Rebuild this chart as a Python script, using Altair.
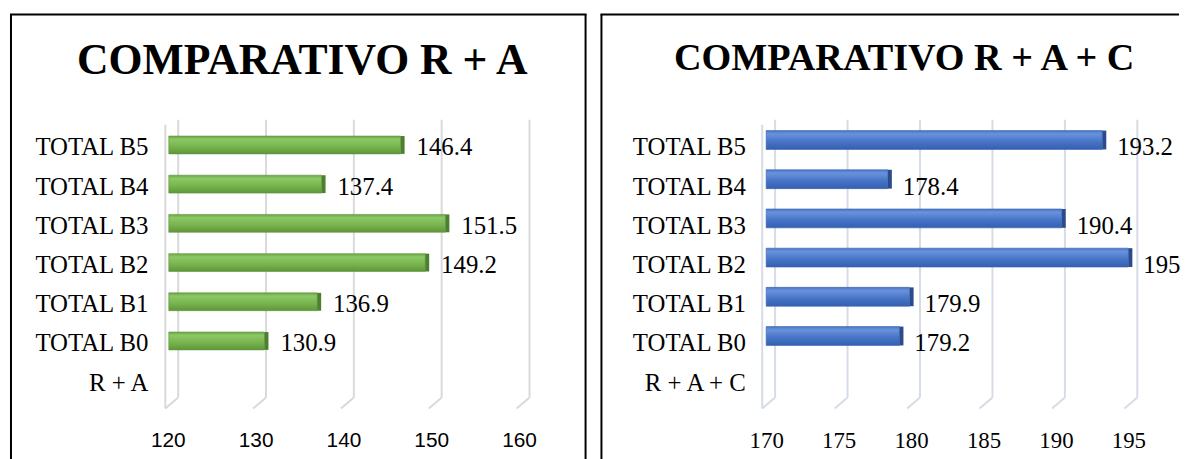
import altair as alt
import pandas as pd

# ---- data ----
categories_ra = ["TOTAL B5", "TOTAL B4", "TOTAL B3", "TOTAL B2", "TOTAL B1", "TOTAL B0", "R + A"]
values_ra = [146.4, 137.4, 151.5, 149.2, 136.9, 130.9, None]
ticks_ra = [120, 130, 140, 150, 160]
title_ra = "COMPARATIVO R + A"

categories_rac = ["TOTAL B5", "TOTAL B4", "TOTAL B3", "TOTAL B2", "TOTAL B1", "TOTAL B0", "R + A + C"]
values_rac = [193.2, 178.4, 190.4, 195, 179.9, 179.2, None]
ticks_rac = [170, 175, 180, 185, 190, 195]
title_rac = "COMPARATIVO R + A + C"

SERIF = "Liberation Serif"
SANS = "Liberation Sans"


def panel(cats, vals, ticks, title, st):
    df = pd.DataFrame({"cat": cats, "value": vals})
    bars_df = df.dropna().copy()
    bars_df["label"] = [f"{v:g}" for v in bars_df["value"]]
    tick_df = pd.DataFrame({"tick": ticks})

    W = (ticks[-1] - ticks[0]) * st["ppu"]
    H = st["step"] * len(cats)

    xs = alt.Scale(domain=[ticks[0], ticks[-1]], nice=False, zero=False)
    ys = alt.Scale(domain=cats, padding=0)

    x_axis = alt.Axis(values=ticks, grid=False, domain=False, ticks=False, tickSize=0,
                      labelFont=st["tick_font"], labelFontSize=st["tick_size"],
                      labelColor="#000000", labelPadding=st["tick_pad"],
                      labelBaseline="middle", labelOffset=st["tick_off"],
                      labelFlush=False, labelOverlap=False, title=None)
    y_axis = alt.Axis(domain=False, ticks=False, tickSize=0, grid=False,
                      labelFont=SERIF, labelFontSize=25, labelColor="#000000",
                      labelPadding=st["cat_pad"], labelLimit=300, title=None)

    grid = alt.Chart(tick_df).mark_rule(color=st["grid"], strokeWidth=2,
                                        xOffset=st["back"]).encode(
        x=alt.X("tick:Q", scale=xs, axis=x_axis),
        y=alt.value(st["g_top"]), y2=alt.value(st["g_bot"]))
    floor = alt.Chart(tick_df).mark_rule(color=st["grid"], strokeWidth=2,
                                         xOffset=st["back"], x2Offset=st["front"]).encode(
        x=alt.X("tick:Q", scale=xs, axis=x_axis), x2=alt.X2("tick"),
        y=alt.value(st["g_bot"]), y2=alt.value(st["g_front"]))
    wall = alt.Chart(alt.Data(values=[{}])).mark_rule(color=st["grid"], strokeWidth=2,
                                                      xOffset=st["front"]).encode(
        x=alt.X(datum=ticks[0], scale=xs, axis=x_axis),
        y=alt.value(st["w_top"]), y2=alt.value(st["g_front"]))

    bars = alt.Chart(bars_df).mark_bar(size=st["bar_h"], yOffset=st["bar_off"],
                                       fill=st["grad"], stroke=st["edge"], strokeWidth=0.6).encode(
        x=alt.X("value:Q", scale=xs, axis=x_axis), x2=alt.datum(ticks[0]),
        y=alt.Y("cat:N", scale=ys, sort=cats, axis=y_axis))
    caps = alt.Chart(bars_df).mark_bar(size=st["bar_h"], yOffset=st["bar_off"],
                                       x2Offset=4, color=st["cap"]).encode(
        x=alt.X("value:Q", scale=xs, axis=x_axis), x2=alt.X2("value"),
        y=alt.Y("cat:N", scale=ys, sort=cats, axis=y_axis))
    labels = alt.Chart(bars_df).mark_text(align="left", baseline="middle", dx=st["dx"],
                                          font=SERIF, fontSize=25, color="#000000").encode(
        x=alt.X("value:Q", scale=xs, axis=x_axis),
        y=alt.Y("cat:N", scale=ys, sort=cats, axis=y_axis),
        text="label:N")

    one = alt.Data(values=[{}])
    ttl = alt.Chart(one).mark_text(text=title, font=SERIF, fontSize=st["t_size"],
                                   fontWeight="bold", align="center",
                                   baseline="alphabetic", color="#000000").encode(
        x=alt.value(st["t_x"]), y=alt.value(st["t_y"]))
    layers = [grid, floor, wall, bars, caps, labels, ttl]
    layers.append(alt.Chart(one).mark_rule(color="#000000", strokeWidth=2).encode(
        x=alt.value(st["f_l"]), y=alt.value(st["f_t"]), y2=alt.value(st["f_b"])))
    if st["f_r_line"]:
        layers.append(alt.Chart(one).mark_rule(color="#000000", strokeWidth=2).encode(
            x=alt.value(st["f_r"]), y=alt.value(st["f_t"]), y2=alt.value(st["f_b"])))
    layers.append(alt.Chart(one).mark_rule(color="#000000", strokeWidth=2).encode(
        x=alt.value(st["f_l"] - 1), x2=alt.value(st["f_r"] + 1), y=alt.value(st["f_t"])))

    return alt.layer(*layers).properties(width=W, height=H)


green = alt.Gradient(gradient="linear", x1=0, x2=0, y1=0, y2=1, stops=[
    alt.GradientStop(color="#6AA444", offset=0),
    alt.GradientStop(color="#8CC866", offset=0.18),
    alt.GradientStop(color="#77B44D", offset=0.6),
    alt.GradientStop(color="#5E963A", offset=1)])
blue = alt.Gradient(gradient="linear", x1=0, x2=0, y1=0, y2=1, stops=[
    alt.GradientStop(color="#4A77C8", offset=0),
    alt.GradientStop(color="#6992DC", offset=0.18),
    alt.GradientStop(color="#4573C6", offset=0.6),
    alt.GradientStop(color="#3560B0", offset=1)])

left_style = dict(ppu=8.85, step=39.5, back=9.5, front=-3.5, grid="#D9D9D9",
                  g_top=-8.25, g_bot=271.75, g_front=282.75, w_top=-3,
                  tick_font=SANS, tick_size=21, tick_pad=38.5, tick_off=-1, cat_pad=21,
                  bar_h=18, bar_off=-2.5, grad=green, edge="#5E963A", cap="#4C7F2E", dx=16,
                  t_size=44, t_x=134.5, t_y=-53.85, f_l=-159, f_r=420, f_r_line=True,
                  f_t=-114.25, f_b=340)
right_style = dict(ppu=14.6, step=39.5, back=9, front=-4, grid="#D6DCE5",
                   g_top=-8.25, g_bot=271.75, g_front=282.75, w_top=-3,
                   tick_font=SERIF, tick_size=23, tick_pad=38.5, tick_off=0, cat_pad=21,
                   bar_h=19, bar_off=-7.5, grad=blue, edge="#3560B0", cap="#2B4C8C", dx=15,
                   t_size=38.5, t_x=139, t_y=-58.25, f_l=-166, f_r=415, f_r_line=False,
                   f_t=-114.25, f_b=340)

left = panel(categories_ra, values_ra, ticks_ra, title_ra, left_style)
right = panel(categories_rac, values_rac, ticks_rac, title_rac, right_style)

chart = alt.hconcat(left, right, spacing=248, bounds="flush").properties(
    padding={"left": 0, "top": 3, "right": 0, "bottom": 0},
    background="white",
).configure_view(stroke="transparent")

chart.save("out.html", embed_options={"renderer": "svg", "actions": False})
